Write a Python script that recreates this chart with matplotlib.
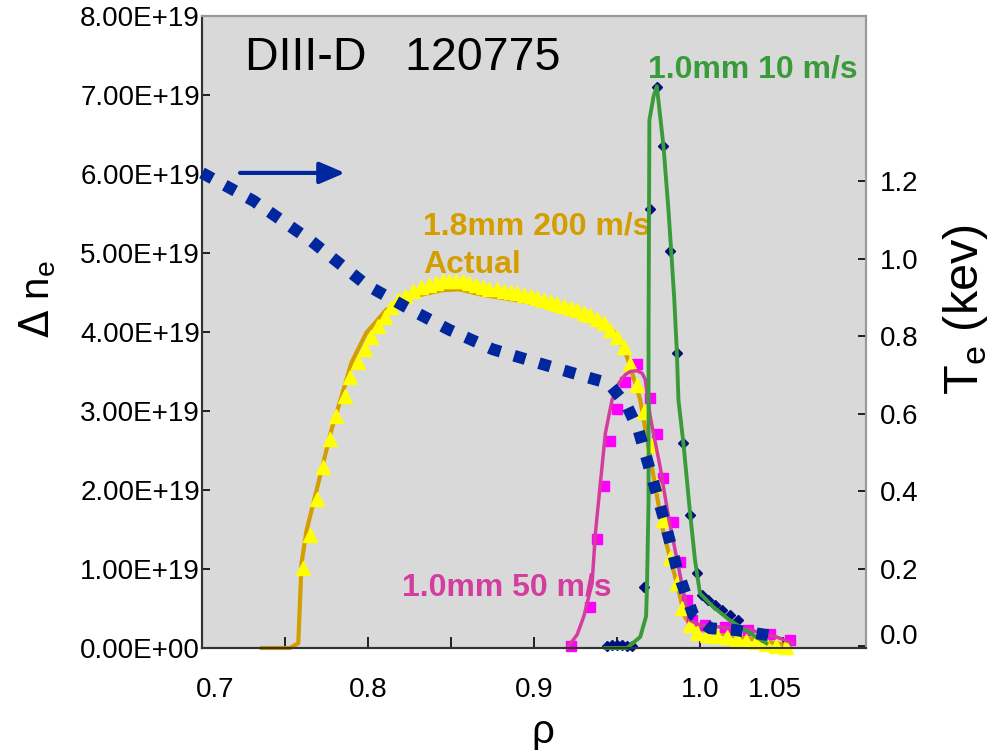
import matplotlib
matplotlib.use("Agg")
import matplotlib.pyplot as plt
import matplotlib.transforms as mtransforms
import numpy as np
from matplotlib.ticker import FixedLocator, FixedFormatter, FuncFormatter

plt.rcParams['font.family'] = ['Liberation Sans', 'DejaVu Sans']

# ---- data (rho, delta n_e in 1e19 m^-3, T_e in keV) ----
# 1.8mm 200 m/s fit (orange line)
rho_18 = [0.736, 0.753, 0.758, 0.760, 0.763, 0.768, 0.773, 0.778, 0.784, 0.790,
          0.799, 0.811, 0.825, 0.845, 0.855, 0.869, 0.899, 0.930, 0.946, 0.954,
          0.958, 0.964, 0.971, 0.978, 0.986, 0.991, 0.994, 1.000, 1.024, 1.054]
ne_18 = [0.0, 0.0, 0.06, 1.08, 1.49, 1.91, 2.34, 2.76, 3.18, 3.61,
         3.99, 4.28, 4.44, 4.53, 4.54, 4.47, 4.37, 4.24, 4.06, 3.81,
         3.56, 3.14, 2.29, 1.46, 0.82, 0.39, 0.29, 0.23, 0.14, 0.03]

# 1.8mm 200 m/s actual (yellow triangles)
rho_act = [0.761, 0.765, 0.769, 0.773, 0.777, 0.781, 0.786, 0.789, 0.794, 0.798,
           0.802, 0.806, 0.810, 0.814, 0.818, 0.822, 0.827, 0.832, 0.837, 0.841,
           0.845, 0.849, 0.853, 0.857, 0.861, 0.865, 0.869, 0.873, 0.878, 0.882,
           0.886, 0.890, 0.894, 0.898, 0.902, 0.906, 0.910, 0.914, 0.918, 0.922,
           0.926, 0.930, 0.934, 0.938, 0.942, 0.946, 0.950, 0.954, 0.958, 0.962,
           0.966, 0.971, 0.974, 0.978, 0.982, 0.986, 0.989, 0.994, 0.998, 1.004,
           1.010, 1.016, 1.022, 1.028, 1.034, 1.040, 1.046, 1.052]
ne_act = [1.01, 1.43, 1.88, 2.29, 2.64, 2.94, 3.19, 3.43, 3.62, 3.78,
          3.94, 4.08, 4.19, 4.31, 4.41, 4.45, 4.52, 4.57, 4.59, 4.62,
          4.64, 4.64, 4.64, 4.64, 4.62, 4.59, 4.57, 4.55, 4.54, 4.52,
          4.51, 4.49, 4.47, 4.45, 4.43, 4.41, 4.38, 4.36, 4.33, 4.30,
          4.28, 4.24, 4.22, 4.17, 4.11, 4.03, 3.94, 3.81, 3.60, 3.33,
          2.99, 2.57, 2.06, 1.62, 1.14, 0.82, 0.50, 0.29, 0.19, 0.16,
          0.15, 0.14, 0.11, 0.09, 0.07, 0.05, 0.03, 0.01]

# 1.0mm 50 m/s (magenta line + squares)
rho_50 = [0.920, 0.926, 0.930, 0.935, 0.937, 0.940, 0.943, 0.947, 0.951, 0.955,
          0.958, 0.962, 0.965, 0.967, 0.970, 0.976, 0.981, 0.987, 0.991, 0.994,
          1.000, 1.010, 1.030, 1.046, 1.056]
ne_50 = [0.0, 0.17, 0.40, 0.82, 1.46, 2.09, 2.72, 3.14, 3.35, 3.46,
         3.50, 3.51, 3.48, 3.40, 2.93, 2.29, 1.66, 1.03, 0.61, 0.35,
         0.29, 0.27, 0.23, 0.14, 0.06]
rho_50_pts = [0.922, 0.934, 0.938, 0.942, 0.946, 0.950, 0.955, 0.962, 0.970, 0.974,
              0.978, 0.984, 0.988, 0.992, 0.995, 1.003, 1.015, 1.029, 1.042, 1.054]
ne_50_pts = [0.03, 0.52, 1.38, 2.05, 2.62, 3.03, 3.37, 3.60, 3.16, 2.71,
             2.15, 1.60, 1.09, 0.61, 0.35, 0.29, 0.27, 0.23, 0.18, 0.10]

# 1.0mm 10 m/s (green line + navy diamonds)
rho_10 = [0.943, 0.956, 0.964, 0.9675, 0.968, 0.969, 0.969, 0.9695, 0.972, 0.974,
          0.978, 0.981, 0.983, 0.9845, 0.986, 0.987, 0.990, 0.994, 0.997, 1.000,
          1.008, 1.018, 1.030, 1.040]
ne_10 = [0.0, 0.0, 0.14, 0.40, 0.73, 1.87, 4.03, 6.68, 6.98, 7.11,
         6.35, 5.54, 4.91, 4.41, 3.77, 3.14, 2.59, 1.71, 1.11, 0.69,
         0.52, 0.35, 0.19, 0.06]
rho_10_pts = [0.944, 0.947, 0.950, 0.953, 0.956, 0.959, 0.966, 0.970, 0.974, 0.978,
              0.982, 0.986, 0.990, 0.994, 0.998, 1.001, 1.005, 1.009, 1.013, 1.018,
              1.023]
ne_10_pts = [0.03, 0.04, 0.04, 0.04, 0.03, 0.03, 0.77, 5.56, 7.10, 6.35,
             5.03, 3.74, 2.59, 1.68, 0.95, 0.67, 0.61, 0.54, 0.48, 0.42,
             0.35]

# electron temperature (blue dotted, right axis)
rho_te = [0.700, 0.731, 0.765, 0.799, 0.824, 0.849, 0.875, 0.903, 0.931, 0.945,
          0.956, 0.963, 0.971, 0.979, 0.986, 0.991, 0.996, 1.006, 1.020, 1.049]
te = [1.222, 1.150, 1.049, 0.933, 0.873, 0.817, 0.767, 0.731, 0.696, 0.679,
      0.621, 0.557, 0.438, 0.318, 0.202, 0.139, 0.081, 0.047, 0.043, 0.024]

x_ticks = [0.7, 0.75, 0.8, 0.85, 0.9, 0.95, 1.0, 1.05]
x_ticklabels = ['0.7', '', '0.8', '', '0.9', '', '1.0', '1.05']
ne_ticks = [0, 1, 2, 3, 4, 5, 6, 7, 8]
te_ticks = [0.0, 0.2, 0.4, 0.6, 0.8, 1.0, 1.2]

ORANGE = '#d49e00'
YELLOW = '#ffff00'
MAGENTA_LINE = '#d43c9f'
MAGENTA = '#ff00ff'
GREEN = '#3a9b3a'
NAVY = '#00107e'
BLUE = '#00279d'

fig = plt.figure(figsize=(10.07, 7.5), dpi=100)
ax = fig.add_axes([0.2006, 0.136, 0.6594, 0.8427])
ax.set_facecolor('#d9d9d9')

E19 = 1e19
ax.plot(rho_18, np.array(ne_18) * E19, color=ORANGE, lw=3, zorder=2, clip_on=False)
ax.plot(rho_act, np.array(ne_act) * E19, ls='none', marker='^', ms=9.5,
        mfc=YELLOW, mec=YELLOW, zorder=3, clip_on=False)
ax.plot(rho_50_pts, np.array(ne_50_pts) * E19, ls='none', marker='s', ms=7.5,
        mfc=MAGENTA, mec=MAGENTA, zorder=2.5, clip_on=False)
ax.plot(rho_50, np.array(ne_50) * E19, color=MAGENTA_LINE, lw=2.5, zorder=4, clip_on=False)
ax.plot(rho_10_pts, np.array(ne_10_pts) * E19, ls='none', marker='D', ms=5.5,
        mfc=NAVY, mec=NAVY, zorder=4.5, clip_on=False)
ax.plot(rho_10, np.array(ne_10) * E19, color=GREEN, lw=2.8, zorder=5, clip_on=False)

ax.set_xlim(0.7, 1.1)
ax.set_ylim(0, 8e19)
ax.xaxis.set_major_locator(FixedLocator(x_ticks))
ax.xaxis.set_major_formatter(FixedFormatter(x_ticklabels))
ax.yaxis.set_major_locator(FixedLocator([v * E19 for v in ne_ticks]))
ax.yaxis.set_major_formatter(FuncFormatter(lambda v, p: f"{v:.2E}"))
ax.tick_params(axis='x', direction='in', length=8, width=1.2, labelsize=20, pad=21)
ax.tick_params(axis='y', direction='in', length=6, width=1.2, labelsize=20, pad=1.5)

# right axis: electron temperature
ax2 = ax.twinx()
ax2.plot(rho_te, te, color=BLUE, lw=8.5, ls=(0, (1, 1.2)), dash_capstyle='butt',
         solid_capstyle='butt', zorder=6, clip_on=False)
ax2.set_ylim(-0.004, 1.627)
ax2.yaxis.set_major_locator(FixedLocator(te_ticks))
ax2.yaxis.set_major_formatter(FuncFormatter(lambda v, p: f"{v:.1f}"))
ax2.tick_params(axis='y', direction='in', length=6, width=1.2, labelsize=20, pad=10)

for a in (ax, ax2):
    a.spines['left'].set_color('#333333')
    a.spines['bottom'].set_color('#333333')
    a.spines['top'].set_color('#999999')
    a.spines['right'].set_color('#999999')
    for s in a.spines.values():
        s.set_linewidth(1.5)

# arrow pointing to the right axis
ax2.annotate('', xy=(0.7861, 1.222), xytext=(0.7229, 1.222),
             arrowprops=dict(arrowstyle='-|>,head_length=0.7,head_width=0.3',
                             color=BLUE, lw=3, mutation_scale=22,
                             shrinkA=0, shrinkB=0))

# annotations
ax.text(0.7259, 7.47e19, 'DIII-D   120775', fontsize=33.5, va='center', ha='left', color='black')
ax.text(0.9687, 7.32e19, '1.0mm 10 m/s', fontsize=23, fontweight='bold',
        color=GREEN, va='center', ha='left')
ax.text(0.833, 5.33e19, '1.8mm 200 m/s', fontsize=23, fontweight='bold',
        color=ORANGE, va='center', ha='left')
ax.text(0.833, 4.85e19, 'Actual', fontsize=23, fontweight='bold',
        color=ORANGE, va='center', ha='left')
ax.text(0.8205, 0.76e19, '1.0mm 50 m/s', fontsize=23, fontweight='bold',
        color=MAGENTA_LINE, va='center', ha='left', zorder=1)

# axis titles
fig.text(38 / 1007, 1 - 299 / 750, r'$\Delta$ n$_\mathregular{e}$', fontsize=29,
         rotation=90, ha='center', va='center')
fig.text(966 / 1007, 1 - 310 / 750, r'T$_\mathregular{e}$ (kev)', fontsize=35,
         rotation=90, ha='center', va='center')
fig.text(543 / 1007, 1 - 743 / 750, 'ρ', fontsize=29, ha='center', va='baseline')

# small label nudges as in the original
fig.canvas.draw()
for lab in ax.get_xticklabels():
    if lab.get_text() == '0.7':
        lab.set_transform(lab.get_transform() + mtransforms.ScaledTranslation(0.13, 0, fig.dpi_scale_trans))
    elif lab.get_text() == '1.05':
        lab.set_transform(lab.get_transform() + mtransforms.ScaledTranslation(-0.08, 0, fig.dpi_scale_trans))
for lab in ax2.get_yticklabels():
    if lab.get_text() == '0.0':
        lab.set_transform(lab.get_transform() + mtransforms.ScaledTranslation(0, 0.12, fig.dpi_scale_trans))

fig.savefig('out.png', dpi=100)
